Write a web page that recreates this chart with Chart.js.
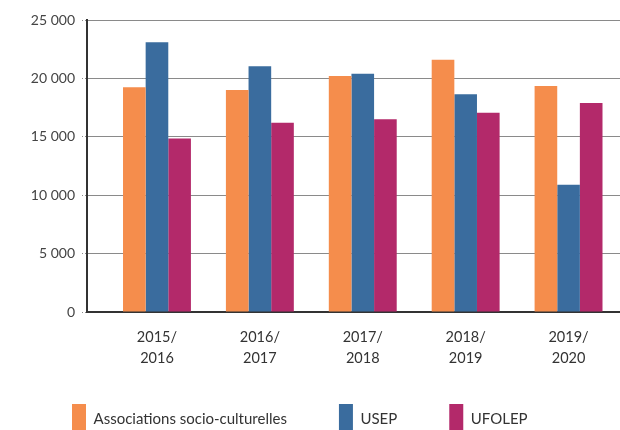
<!DOCTYPE html>
<html>
<head>
<meta charset="utf-8">
<script src="https://cdn.jsdelivr.net/npm/chart.js@4"></script>
<style>
html,body{margin:0;padding:0;background:#fff;}
#wrap{width:620px;height:430px;position:relative;}
</style>
</head>
<body>
<div id="wrap"><canvas id="c"></canvas></div>
<script>
const categories = [["2015/","2016"],["2016/","2017"],["2017/","2018"],["2018/","2019"],["2019/","2020"]];
const seriesNames = ["Associations socio-culturelles","USEP","UFOLEP"];
const assoc = [19250, 19000, 20200, 21600, 19350];
const usep = [23100, 21050, 20400, 18650, 10900];
const ufolep = [14850, 16200, 16500, 17050, 17900];
const yTicks = [0, 5000, 10000, 15000, 20000, 25000];
const colors = ["#F58D4C", "#3A6C9E", "#B3296A"];

function fmt(v){ return String(v).replace(/\B(?=(\d{3})+(?!\d))/g, " "); }
function pts(arr){ return arr.map((v,i)=>({x:i+1,y:v})); }

// let the two-line x labels draw below the compact x-axis box
const labelRoom = {
  id: 'labelRoom',
  afterLayout(chart){ const s = chart.scales.x; s.bottom = s.top + 70; }
};

const font = "Lato";
new Chart(document.getElementById('c'), {
  type: 'bar',
  data: {
    datasets: [assoc, usep, ufolep].map((d,i)=>({
      label: seriesNames[i],
      data: pts(d),
      backgroundColor: colors[i],
      borderWidth: 0,
      categoryPercentage: 0.66,
      barPercentage: 1.0
    }))
  },
  plugins: [labelRoom],
  options: {
    responsive: true,
    maintainAspectRatio: false,
    animation: false,
    layout: { padding: { top: 20, right: 0, left: 20, bottom: -14 } },
    plugins: {
      tooltip: { enabled: false },
      legend: {
        position: 'bottom',
        align: 'start',
        labels: {
          boxWidth: 14, boxHeight: 30, padding: 52,
          color: '#333',
          font: { family: font, size: 15 }
        }
      }
    },
    scales: {
      x: {
        type: 'linear',
        offset: false,
        min: 0.32, max: 5.5,
        afterBuildTicks: (s) => { s.ticks = categories.map((_, i) => ({ value: i + 1 })); },
        afterFit: (s) => { s.height = 40; },
        grid: { display: false, drawTicks: false, offset: false },
        border: { display: true, color: '#333', width: 2 },
        ticks: {
          padding: 15,
          color: '#333',
          font: { family: font, size: 14.5, lineHeight: 1.45 },
          maxRotation: 0,
          autoSkip: false,
          callback: (v, i) => categories[i]
        }
      },
      y: {
        min: 0, max: 25000,
        afterBuildTicks: (s) => { s.ticks = yTicks.map(v => ({ value: v })); },
        afterFit: (s) => { s.width = 67; },
        grid: {
          color: '#8a8a8a', lineWidth: 1, borderDash: [1, 2],
          tickLength: 5, tickBorderDash: [1, 2], tickColor: '#8a8a8a'
        },
        border: { display: true, color: '#333', width: 2 },
        ticks: {
          padding: 7,
          color: '#444',
          font: { family: font, size: 14 },
          callback: (v) => fmt(v)
        }
      }
    }
  }
});
</script>
</body>
</html>
